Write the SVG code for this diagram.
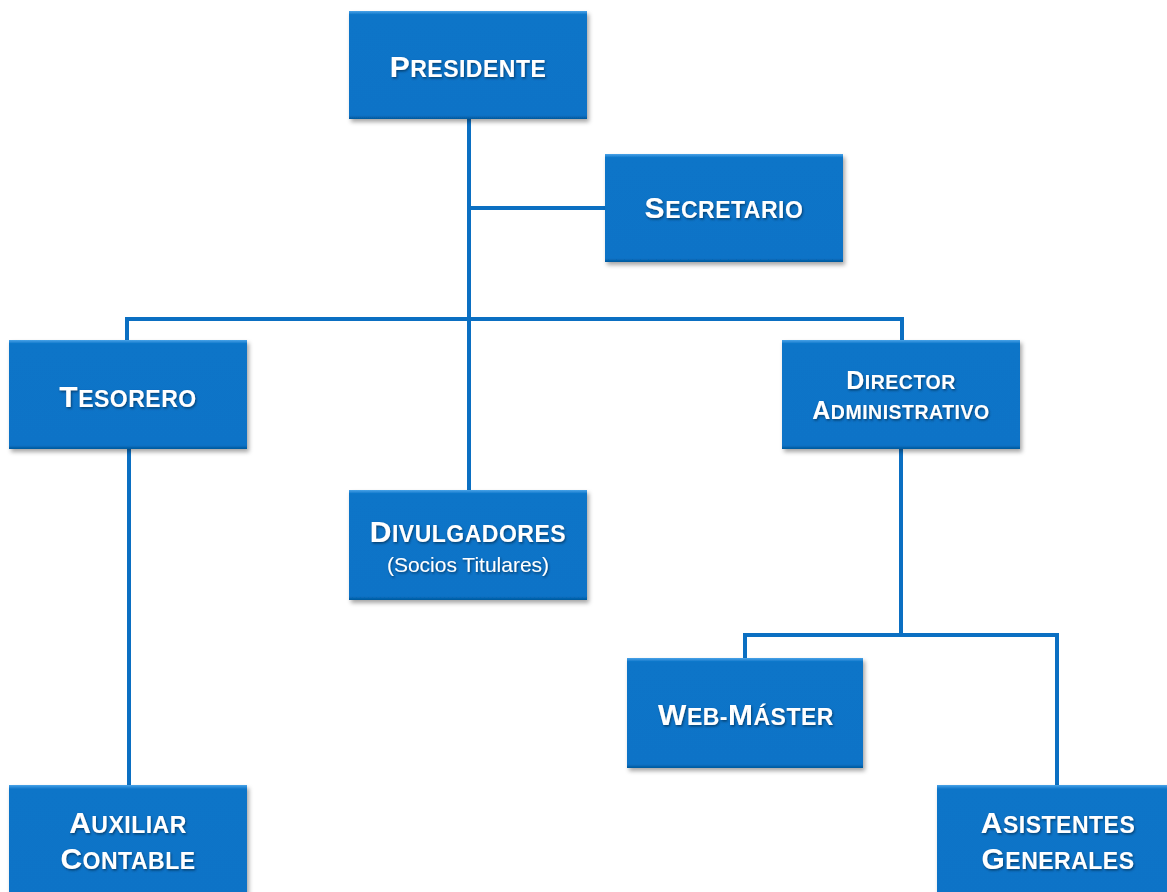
<svg xmlns="http://www.w3.org/2000/svg" width="1167" height="892" viewBox="0 0 1167 892">
<defs>
<filter id="boxShadow" x="-10%" y="-10%" width="125%" height="130%">
<feDropShadow dx="2" dy="3" stdDeviation="2" flood-color="#000" flood-opacity="0.35"/>
</filter>
<filter id="txtShadow" x="-10%" y="-20%" width="120%" height="150%">
<feDropShadow dx="1" dy="1.5" stdDeviation="1" flood-color="#00254d" flood-opacity="0.7"/>
</filter>
<linearGradient id="boxFill" x1="0" y1="0" x2="0" y2="1">
<stop offset="0" stop-color="#4aa3e8"/>
<stop offset="0.035" stop-color="#0a74c8"/>
<stop offset="0.965" stop-color="#0873c7"/>
<stop offset="1" stop-color="#05589c"/>
</linearGradient>
</defs>
<style>
.box{fill:url(#boxFill);filter:url(#boxShadow);}
.edge{fill:none;stroke:#0b6fc2;stroke-width:4;stroke-linejoin:miter;stroke-linecap:square;}
.t{font-family:"Liberation Sans",Arial,sans-serif;font-weight:bold;fill:#fff;text-anchor:middle;letter-spacing:0.5px;filter:url(#txtShadow);}
.big{font-size:30px;}
.sm{font-size:23px;}
.dbig{font-size:25px;}
.dsm{font-size:19.5px;}
.sub{font-family:"Liberation Sans",Arial,sans-serif;font-weight:normal;font-size:21px;fill:#fff;text-anchor:middle;filter:url(#txtShadow);}
</style>
<rect width="1167" height="892" fill="#fff"/>
<g id="connectors">
<path class="edge" d="M469 119 V490"/>
<path class="edge" d="M469 208 H605"/>
<path class="edge" d="M127 340 V319 H902 V340"/>
<path class="edge" d="M129 449 V785"/>
<path class="edge" d="M901 449 V635"/>
<path class="edge" d="M745 658 V635 H1057 V785"/>
</g>
<g id="presidente">
<rect class="box" x="349" y="11" width="238" height="108"/>
<text class="t" x="468" y="77"><tspan class="big">P</tspan><tspan class="sm">RESIDENTE</tspan></text>
</g>
<g id="secretario">
<rect class="box" x="605" y="154" width="238" height="108"/>
<text class="t" x="724" y="218"><tspan class="big">S</tspan><tspan class="sm">ECRETARIO</tspan></text>
</g>
<g id="tesorero">
<rect class="box" x="9" y="340" width="238" height="109"/>
<text class="t" x="128" y="407"><tspan class="big">T</tspan><tspan class="sm">ESORERO</tspan></text>
</g>
<g id="director">
<rect class="box" x="782" y="340" width="238" height="109"/>
<text class="t" x="901" y="389"><tspan class="dbig">D</tspan><tspan class="dsm">IRECTOR</tspan></text>
<text class="t" x="901" y="419"><tspan class="dbig">A</tspan><tspan class="dsm">DMINISTRATIVO</tspan></text>
</g>
<g id="divulgadores">
<rect class="box" x="349" y="490" width="238" height="110"/>
<text class="t" x="468" y="542"><tspan class="big">D</tspan><tspan class="sm">IVULGADORES</tspan></text>
<text class="sub" x="468" y="572">(Socios Titulares)</text>
</g>
<g id="webmaster">
<rect class="box" x="627" y="658" width="236" height="110"/>
<text class="t" x="746" y="725"><tspan class="big">W</tspan><tspan class="sm">EB-</tspan><tspan class="big">M</tspan><tspan class="sm">ÁSTER</tspan></text>
</g>
<g id="auxiliar">
<rect class="box" x="9" y="785" width="238" height="115"/>
<text class="t" x="128" y="833"><tspan class="big">A</tspan><tspan class="sm">UXILIAR</tspan></text>
<text class="t" x="128" y="869"><tspan class="big">C</tspan><tspan class="sm">ONTABLE</tspan></text>
</g>
<g id="asistentes">
<rect class="box" x="937" y="785" width="238" height="115"/>
<text class="t" x="1058" y="833"><tspan class="big">A</tspan><tspan class="sm">SISTENTES</tspan></text>
<text class="t" x="1058" y="869"><tspan class="big">G</tspan><tspan class="sm">ENERALES</tspan></text>
</g>
</svg>
